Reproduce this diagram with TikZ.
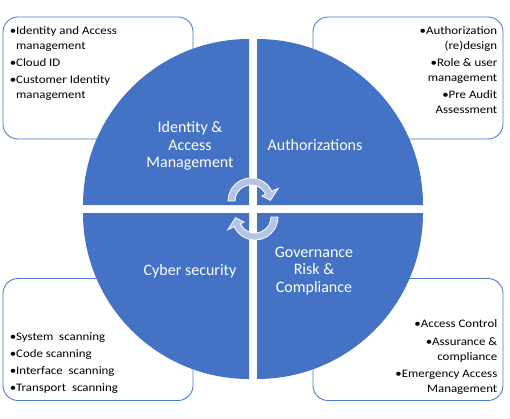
\documentclass[tikz,border=0pt]{standalone}
\usepackage{fontspec}
\setmainfont{Carlito}
\newfontfamily\boxfont[FakeStretch=1.12]{Carlito}
\usepackage{tikz}
\usetikzlibrary{calc,positioning}
\usepackage{xcolor}
\definecolor{quadblue}{RGB}{68,114,196}
\definecolor{cycblue}{RGB}{180,196,229}
\definecolor{edgeblue}{RGB}{78,124,204}

\begin{document}
\begin{tikzpicture}[
  x=1pt,y=1pt,
  quad/.style={fill=quadblue},
  infobox/.style={draw=edgeblue,fill=white,rounded corners=15pt,line width=0.9pt,
                  minimum width=190pt,minimum height=122pt,inner sep=0pt},
  list/.style={font=\boxfont\fontsize{11.5}{15}\selectfont,inner sep=0pt},
  quadlbl/.style={font=\fontsize{16}{17.5}\selectfont,text=white,
                  align=center,inner sep=0pt},
  cyc/.style={fill=cycblue,draw=white,line width=0.8pt},
]
\useasboundingbox (0,0) rectangle (510,418);

%% Side boxes (behind the circle)
\node[infobox] (tlbox) at (98,340)  {};
\node[infobox] (trbox) at (408,340) {};
\node[infobox] (blbox) at (98,78.5) {};
\node[infobox] (brbox) at (408,78.5) {};

% Box texts
\node[list,anchor=north west,align=left] (tltxt)
  at ([shift={(7,-10)}]tlbox.north west)
  {•Identity and Access\\\phantom{•}management\\[2pt]•Cloud ID\\[2pt]%
   •Customer Identity\\\phantom{•}management};
\node[list,anchor=north east,align=right] (trtxt)
  at ([shift={(-6,-9.5)}]trbox.north east)
  {•Authorization\\(re)design\\[2pt]•Role \& user\\management\\[2pt]%
   •Pre Audit\\Assessment};
\node[list,font=\boxfont\fontsize{11.5}{17}\selectfont,anchor=south west,align=left] (bltxt)
  at ([shift={(7,7.5)}]blbox.south west)
  {•System\ \ scanning\\•Code scanning\\•Interface\ \ scanning\\%
   •Transport\ \ scanning};
\node[list,anchor=south east,align=right] (brtxt)
  at ([shift={(-6,6.5)}]brbox.south east)
  {•Access Control\\[3pt]•Assurance \&\\compliance\\[2pt]%
   •Emergency Access\\Management};

%% Circle quadrants, 8pt gaps
\coordinate (c) at (253,209);
\foreach \sx/\sy/\a in {-1/1/90, 1/1/0, -1/-1/180, 1/-1/270}
  \fill[quad] ($(c)+(\sx*4,\sy*4)$) -- ++(\a:166)
    arc[start angle=\a, end angle=\a+90, radius=166] -- cycle;

% Quadrant labels
\node[quadlbl] (iam)  at (190,272) {Identity \&\\Access\\Management};
\node[quadlbl] (auth) at (315,273) {Authorizations};
\node[quadlbl] (cyb)  at (190,147) {Cyber security};
\node[quadlbl] (grc)  at (314,147) {Governance\\Risk \&\\Compliance};

%% Cycle arrows in the middle
\coordinate (ta) at (251,217);
\coordinate (tb) at (255,201);
\foreach \p/\o in {ta/0, tb/180}
  \filldraw[cyc] ($(\p)+(180+\o:23)$)
    arc[start angle=180+\o, end angle=25+\o, radius=23]
    -- ($(\p)+(25+\o:30)$) -- ($(\p)+(2+\o:19.5)$) -- ($(\p)+(25+\o:12)$)
    -- ($(\p)+(25+\o:16)$)
    arc[start angle=25+\o, end angle=180+\o, radius=16] -- cycle;

\end{tikzpicture}
\end{document}
